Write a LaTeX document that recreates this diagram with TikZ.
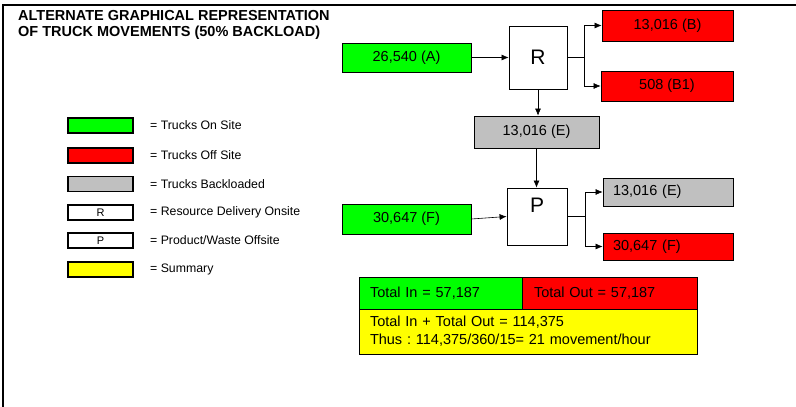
\documentclass[tikz,border=0pt]{standalone}
\usepackage{fontspec}
\setmainfont{Liberation Sans}
\usetikzlibrary{arrows.meta}
\definecolor{bgreen}{HTML}{00FF00}
\definecolor{bred}{HTML}{FF0000}
\definecolor{bgray}{HTML}{C0C0C0}
\definecolor{byellow}{HTML}{FFFF00}
\frenchspacing
\begin{document}
\begin{tikzpicture}[x=1pt,y=-1pt,
  box/.style={draw=black, line width=0.8pt, inner sep=0pt, font=\fontsize{14.5}{16}\selectfont},
  leftbox/.style={box, align=left, inner xsep=#1},
  lgbox/.style={draw=black, line width=1.2pt, minimum width=65pt, minimum height=15pt, inner sep=0pt, font=\fontsize{11}{12}\selectfont},
  lgtext/.style={anchor=west, inner sep=0pt, font=\fontsize{12.3}{14}\selectfont},
  arr/.style={-{Latex[length=7pt,width=6pt]}, line width=0.6pt},
  conn/.style={line width=0.6pt}]
\useasboundingbox (0,0) rectangle (796,407);
\draw[line width=2pt] (3,407) -- (3,5) -- (796,5);
\node[anchor=north west, inner sep=0pt, align=left, font=\fontsize{14.5}{16.5}\selectfont\bfseries] (title) at (18,10)
  {ALTERNATE GRAPHICAL REPRESENTATION\\OF TRUCK MOVEMENTS (50\% BACKLOAD)};

% diagram
\node[box, fill=bgreen, minimum width=129pt, minimum height=29pt] (A) at (406.5,57.5) {26,540 (A)};
\node[box, fill=white, minimum width=58pt, minimum height=63pt, font=\fontsize{21}{24}\selectfont] (R) at (538,57.5) {R};
\node[box, fill=bred, minimum width=131pt, minimum height=31pt] (B) at (667.5,25.5) {13,016 (B)};
\node[box, fill=bred, minimum width=132pt, minimum height=30pt] (B1) at (667,86) {508 (B1)};
\node[box, fill=bgray, minimum width=125pt, minimum height=32pt] (E1) at (536.5,132) {13,016 (E)};
\node[box, fill=white, minimum width=60pt, minimum height=57pt,
  label={[anchor=north, inner sep=0pt, yshift=-10pt, font=\fontsize{21}{24}\selectfont]north:P}] (P) at (537,216.5) {};
\node[box, fill=bgreen, minimum width=129pt, minimum height=30pt] (F) at (406.5,219) {30,647 (F)};
\node[leftbox=10pt, fill=bgray, text width=110pt, minimum height=28pt] (E2) at (668,192) {13,016 (E)};
\node[leftbox=10pt, fill=bred, text width=110pt, minimum height=27pt] (F2) at (668,246.5) {30,647 (F)};

% summary
\node[leftbox=11pt, fill=bgreen, text width=141pt, minimum height=32pt] (tin) at (440.5,293) {Total In = 57,187};
\node[leftbox=12pt, fill=bred, text width=151pt, minimum height=32pt] (tout) at (609.5,293) {Total Out = 57,187};
\node[leftbox=11pt, fill=byellow, text width=316pt, minimum height=45pt, font=\fontsize{14.5}{18}\selectfont] (sum) at (528,331.5)
  {Total In + Total Out = 114,375\\Thus : 114,375/360/15= 21 movement/hour};

% connectors
\draw[arr] (A.east) -- (R.west);
\coordinate (rj) at (584,57.5);
\draw[conn] (R.east) -- (rj);
\draw[arr] (rj) |- (B.west);
\draw[arr] (rj) |- (B1.west);
\draw[arr] (R.south) -- (R.south |- E1.north);
\draw[arr] (E1.south) -- (E1.south |- P.north);
\draw[arr] (F.east) -- (P.west);
\coordinate (pj) at (585,216.5);
\draw[conn] (P.east) -- (pj);
\draw[arr] (pj) |- (E2.west);
\draw[arr] (pj) |- (F2.west);

% legend
\node[lgbox, fill=bgreen] (lg1) at (100.5,125.5) {};
\node[lgbox, fill=bred] (lg2) at (100.5,155.5) {};
\node[lgbox, fill=bgray] (lg3) at (100.5,184) {};
\node[lgbox, fill=white] (lg4) at (100.5,212.5) {R};
\node[lgbox, fill=white] (lg5) at (100.5,240.5) {P};
\node[lgbox, fill=byellow] (lg6) at (100.5,269.5) {};
\node[lgtext] (lt1) at (150,125.5) {= Trucks On Site};
\node[lgtext] (lt2) at (150,155.5) {= Trucks Off Site};
\node[lgtext] (lt3) at (150,184) {= Trucks Backloaded};
\node[lgtext] (lt4) at (150,212.5) {= Resource Delivery Onsite};
\node[lgtext] (lt5) at (150,240.5) {= Product/Waste Offsite};
\node[lgtext] (lt6) at (150,269.5) {= Summary};
\end{tikzpicture}
\end{document}
